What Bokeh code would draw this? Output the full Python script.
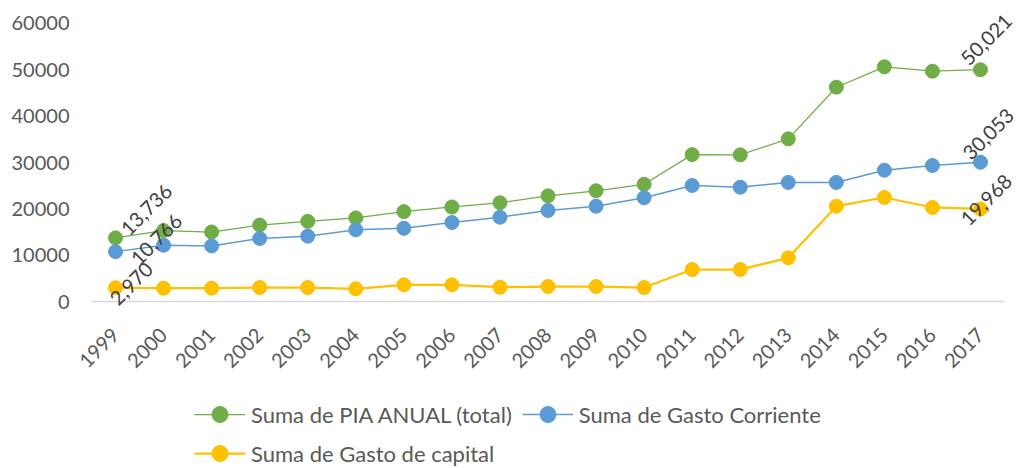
import math
from bokeh.plotting import figure
from bokeh.layouts import column
from bokeh.models import Legend, LegendItem, ColumnDataSource, Label, Range1d
from bokeh.embed import file_html
from bokeh.resources import INLINE

years = list(range(1999, 2018))
pia_total = [13736, 15300, 15000, 16500, 17300, 18050, 19400, 20400, 21300, 22800,
             23900, 25300, 31700, 31650, 35100, 46250, 50650, 49700, 50021]
gasto_corriente = [10766, 12150, 12000, 13600, 14100, 15470, 15800, 17050, 18200, 19650,
                   20570, 22380, 25040, 24670, 25700, 25700, 28340, 29350, 30053]
gasto_capital = [2970, 2870, 2870, 3020, 3020, 2730, 3600, 3600, 3090, 3240,
                 3240, 3020, 6900, 6900, 9430, 20570, 22450, 20290, 19968]
names = ["Suma de PIA ANUAL (total)", "Suma de Gasto Corriente", "Suma de Gasto de capital"]
y_ticks = [0, 10000, 20000, 30000, 40000, 50000, 60000]

FONT = "Lato"
colors = ["#70AD47", "#5B9BD5", "#FFC000"]
widths = [1.25, 1.5, 2.25]
series = [pia_total, gasto_corriente, gasto_capital]

# frame extends a little beyond the plot area (room for the rotated data labels)
p = figure(x_range=Range1d(years[0] - 0.5, years[-1] + 0.77), y_range=Range1d(-3450, 63020),
           frame_width=926, frame_height=308,
           min_border_left=91, min_border_right=0, min_border_top=9, min_border_bottom=62,
           output_backend="svg", toolbar_location=None)
p.outline_line_color = None
p.xgrid.grid_line_color = None
p.ygrid.grid_line_color = None

p.yaxis.ticker = y_ticks
p.yaxis.axis_line_color = None
p.yaxis.major_tick_line_color = None
p.yaxis.minor_tick_line_color = None
p.yaxis.major_label_standoff = 16
p.yaxis.major_label_text_font = FONT
p.yaxis.major_label_text_font_size = "20px"
p.yaxis.major_label_text_color = "#595959"

p.xaxis.ticker = years
p.xaxis.axis_line_color = None
p.xaxis.major_tick_line_color = None
p.xaxis.minor_tick_line_color = None
p.xaxis.major_label_orientation = math.pi / 4
p.xaxis.major_label_standoff = 8
p.xaxis.major_label_text_font = FONT
p.xaxis.major_label_text_font_size = "20px"
p.xaxis.major_label_text_color = "#595959"

# category-axis baseline
p.segment(x0=[years[0] - 0.5], x1=[years[-1] + 0.5], y0=[y_ticks[0]], y1=[y_ticks[0]],
          line_color="#D9D9D9", line_width=1.5)

# legend figure below the chart
lf = figure(x_range=Range1d(0, 1), y_range=Range1d(0, 1), frame_width=926, frame_height=100,
            min_border_left=91, min_border_right=0, min_border_top=0, min_border_bottom=0,
            output_backend="svg", toolbar_location=None)
lf.axis.visible = False
lf.grid.visible = False
lf.outline_line_color = None

items = []
for vals, c, w, n in zip(series, colors, widths, names):
    src = ColumnDataSource(dict(x=years, y=vals))
    p.line("x", "y", source=src, line_color=c, line_width=w)
    p.scatter("x", "y", source=src, size=14, fill_color=c, line_color=c)
    l = lf.line("x", "y", source=src, line_color=c, line_width=w)
    s = lf.scatter("x", "y", source=src, size=14, fill_color=c, line_color=c)
    items.append(LegendItem(label=n, renderers=[l, s]))

# data labels on first and last points
label_offsets = [[(31, 28), (6, 30)], [(41, 12), (8, 28)], [(16, 4), (6, 9)]]
for vals, offs in zip(series, label_offsets):
    for idx, (dx, dy) in zip([0, len(years) - 1], offs):
        p.add_layout(Label(x=years[idx], y=vals[idx], text=f"{vals[idx]:,}", angle=math.pi / 4,
                           x_offset=dx, y_offset=dy, text_align="center",
                           text_baseline="middle", text_font=FONT,
                           text_font_size="20px", text_color="#404040"))

def mk_legend(its, loc):
    lg = Legend(items=its, location=loc, orientation="horizontal", spacing=10,
                padding=0, margin=0, border_line_color=None, background_fill_alpha=0,
                glyph_width=51, glyph_height=40, label_standoff=6,
                label_text_font=FONT, label_text_font_size="22px",
                label_text_color="#595959")
    lf.add_layout(lg, "center")

mk_legend(items[:2], (103, 45))
mk_legend(items[2:], (103, 6))

open("out.html", "w").write(file_html(column(p, lf, spacing=0), INLINE))
